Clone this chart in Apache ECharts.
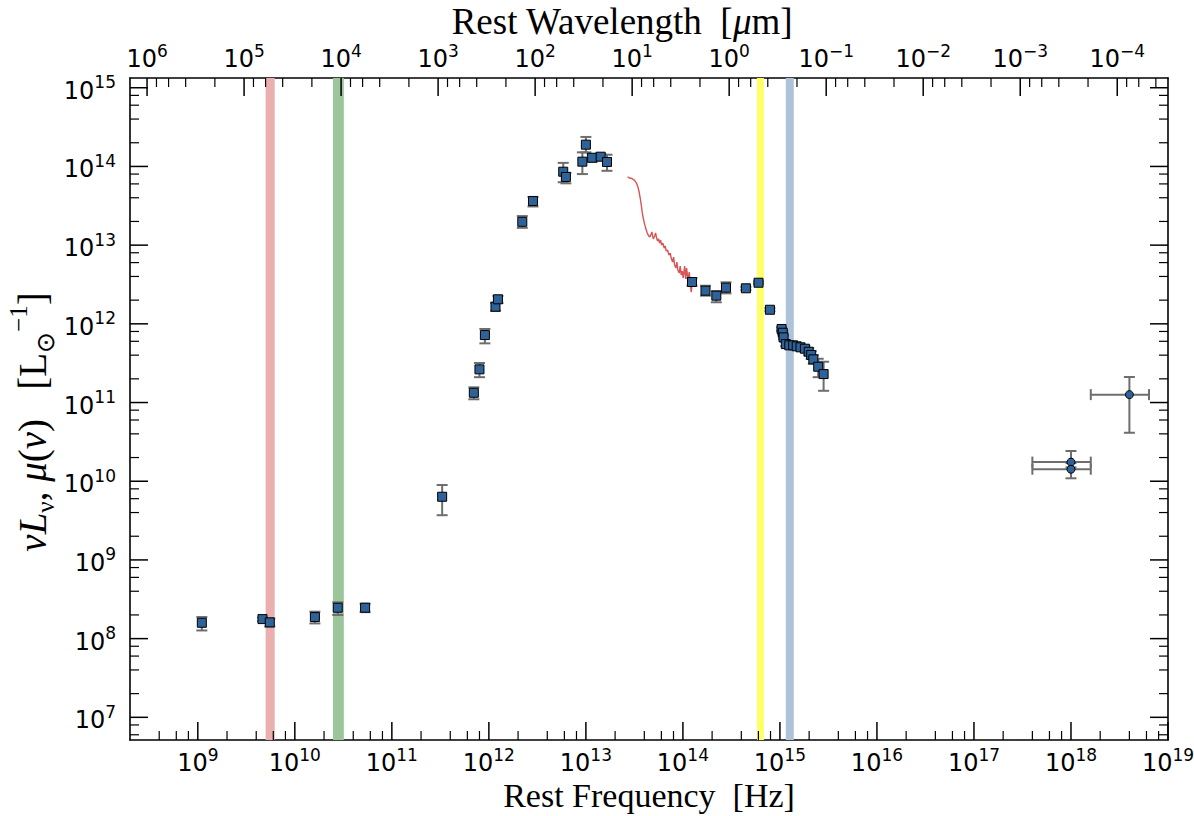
<!DOCTYPE html>
<html>
<head>
<meta charset="utf-8">
<title>SED</title>
<script src="https://cdn.jsdelivr.net/npm/echarts@6/dist/echarts.min.js"></script>
<style>
  html, body { margin: 0; padding: 0; background: #fff; }
  #chart { width: 1194px; height: 816px; }
</style>
</head>
<body>
<div id="chart"></div>
<script>
// axis limits
const freqMin = 2e8, freqMax = 1e19;        // Hz
const lumMin = 5.15e6, lumMax = 1.33e15;    // L_sun
const C_UM = 2.998e14;                      // c in um * Hz

// tick exponents
const freqTickExps = [9, 10, 11, 12, 13, 14, 15, 16, 17, 18, 19];
const lumTickExps = [7, 8, 9, 10, 11, 12, 13, 14, 15];
const waveTickExps = [6, 5, 4, 3, 2, 1, 0, -1, -2, -3, -4];
const minorSubs = [2, 4, 6, 8];

// photometry (squares)
const photFreq = [1.1e9, 4.64e9, 5.52e9, 1.61e10, 2.77e10, 5.3e10, 3.3e11,
  7.0e11, 8.0e11, 9.1e11, 1.17e12, 1.24e12, 2.21e12, 2.85e12, 5.84e12, 6.22e12,
  9.2e12, 1.0e13, 1.16e13, 1.42e13, 1.65e13,
  1.24e14, 1.71e14, 2.21e14, 2.78e14, 4.46e14, 6.02e14, 7.89e14,
  1.04e15, 1.07e15, 1.09e15, 1.15e15, 1.25e15, 1.37e15, 1.49e15, 1.63e15,
  1.81e15, 1.98e15, 2.1e15, 2.21e15, 2.48e15, 2.82e15];
const photLum = [1.59e8, 1.77e8, 1.61e8, 1.88e8, 2.47e8, 2.47e8, 6.35e9,
  1.33e11, 2.64e11, 7.2e11, 1.65e12, 2.05e12, 1.98e13, 3.63e13, 8.57e13, 7.35e13,
  1.15e14, 1.89e14, 1.29e14, 1.33e14, 1.14e14,
  3.4e12, 2.64e12, 2.28e12, 2.88e12, 2.83e12, 3.33e12, 1.51e12,
  8.6e11, 7.7e11, 6.73e11, 5.53e11, 5.33e11, 5.33e11, 5.18e11, 5.03e11,
  4.83e11, 4.42e11, 4.02e11, 3.54e11, 2.85e11, 2.3e11];
const photLo = [1.27e8, 1.68e8, 1.42e8, 1.56e8, 2.0e8, 2.17e8, 3.7e9,
  1.1e11, 2.1e11, 5.65e11, 1.46e12, 1.84e12, 1.66e13, 3.1e13, 6.3e13, 6.1e13,
  8.0e13, 1.51e14, 1.15e14, 1.2e14, 8.8e13,
  3.05e12, 2.28e12, 1.88e12, 2.44e12, 2.7e12, 3.2e12, 1.45e12,
  8.2e11, 7.3e11, 6.4e11, 5.2e11, 5.0e11, 5.0e11, 4.85e11, 4.7e11,
  4.45e11, 4.0e11, 3.6e11, 3.1e11, 2.1e11, 1.41e11];
const photHi = [1.88e8, 1.85e8, 1.8e8, 2.2e8, 2.89e8, 2.78e8, 8.96e9,
  1.56e11, 3.18e11, 8.6e11, 1.85e12, 2.27e12, 2.34e13, 4.1e13, 1.11e14, 8.3e13,
  1.51e14, 2.37e14, 1.43e14, 1.45e14, 1.41e14,
  3.82e12, 3.05e12, 2.61e12, 3.37e12, 2.95e12, 3.45e12, 1.58e12,
  9.0e11, 8.1e11, 7.1e11, 5.9e11, 5.7e11, 5.7e11, 5.55e11, 5.4e11,
  5.25e11, 4.9e11, 4.5e11, 4.0e11, 3.6e11, 3.3e11];

// X-ray (circles)
const xrayFreq = [4.0e18, 1.0e18, 1.0e18];
const xrayLum = [1.26e11, 1.75e10, 1.42e10];
const xrayLumLo = [4.13e10, 1.5e10, 1.09e10];
const xrayLumHi = [2.11e11, 2.42e10, 1.7e10];
const xrayFreqLo = [1.6e18, 4.0e17, 4.0e17];
const xrayFreqHi = [6.37e18, 1.6e18, 1.6e18];

// mid-IR spectrum (red line)
const specFreq = [2.69e13, 2.81e13, 2.98e13, 3.16e13, 3.32e13, 3.44e13, 3.54e13, 3.63e13,
  3.72e13, 3.80e13, 3.90e13, 4.03e13, 4.16e13, 4.29e13, 4.43e13, 4.57e13, 4.68e13,
  4.79e13, 4.87e13, 4.96e13, 5.11e13, 5.23e13, 5.36e13, 5.48e13, 5.61e13, 5.75e13,
  5.89e13, 6.03e13, 6.22e13, 6.41e13, 6.57e13, 6.73e13, 6.95e13, 7.18e13, 7.40e13,
  7.57e13, 7.83e13, 8.02e13, 8.21e13, 8.47e13, 8.67e13, 8.87e13, 9.16e13, 9.38e13,
  9.60e13, 9.84e13, 1.007e14, 1.042e14, 1.067e14, 1.092e14, 1.127e14, 1.162e14,
  1.189e14, 1.219e14, 1.239e14];
const specLum = [7.40e13, 7.13e13, 7.02e13, 6.71e13, 6.15e13, 5.47e13, 4.73e13, 3.97e13,
  3.24e13, 2.64e13, 2.21e13, 1.85e13, 1.60e13, 1.43e13, 1.31e13, 1.27e13, 1.36e13,
  1.47e13, 1.31e13, 1.20e13, 1.31e13, 1.43e13, 1.23e13, 1.13e13, 1.20e13, 1.06e13,
  1.16e13, 1.00e13, 1.06e13, 9.18e12, 9.75e12, 8.41e12, 8.67e12, 7.48e12, 7.94e12,
  6.86e12, 6.10e12, 7.06e12, 5.59e12, 5.12e12, 6.10e12, 4.83e12, 4.42e12, 5.42e12,
  4.17e12, 4.69e12, 3.82e12, 5.42e12, 3.71e12, 5.12e12, 3.60e12, 4.55e12,
  3.30e12, 2.53e12, 3.11e12];

// shaded frequency bands
const bandLo = [5.0e9, 2.47e10, 5.8e14, 1.15e15];
const bandHi = [6.2e9, 3.2e10, 6.84e14, 1.39e15];
const bandColors = ['#ebafaf', '#9cc59c', '#ffff66', '#aec3da'];

// ---- ticks (drawn inward like the original) ----
const ticks = [];
freqTickExps.forEach(e => ticks.push({ side: 'bottom', v: Math.pow(10, e), major: true, exp: String(e) }));
for (let e = freqTickExps[0] - 1; e <= freqTickExps[freqTickExps.length - 1]; e++) {
  minorSubs.forEach(s => {
    const v = s * Math.pow(10, e);
    if (v > freqMin && v < freqMax) ticks.push({ side: 'bottom', v: v, major: false });
  });
}
waveTickExps.forEach(e => {
  const v = C_UM / Math.pow(10, e);
  if (v >= freqMin && v <= freqMax) ticks.push({ side: 'top', v: v, major: true, exp: String(e).replace('-', '\u2212') });
});
for (let e = -6; e <= 7; e++) {
  minorSubs.forEach(s => {
    const v = C_UM / (s * Math.pow(10, e));
    if (v > freqMin && v < freqMax) ticks.push({ side: 'top', v: v, major: false });
  });
}
lumTickExps.forEach(e => {
  ticks.push({ side: 'left', v: Math.pow(10, e), major: true, exp: String(e) });
  ticks.push({ side: 'right', v: Math.pow(10, e), major: true });
});
for (let e = lumTickExps[0] - 1; e <= lumTickExps[lumTickExps.length - 1]; e++) {
  minorSubs.forEach(s => {
    const v = s * Math.pow(10, e);
    if (v > lumMin && v < lumMax) {
      ticks.push({ side: 'left', v: v, major: false });
      ticks.push({ side: 'right', v: v, major: false });
    }
  });
}

const tickRich = {
  b: { fontFamily: 'DejaVu Sans', fontSize: 24, lineHeight: 34, color: '#000' },
  s: { fontFamily: 'DejaVu Sans', fontSize: 17, lineHeight: 15, verticalAlign: 'top', color: '#000' }
};

function renderTick(params, api) {
  const t = ticks[params.dataIndex];
  const cs = params.coordSys;
  const len = t.major ? 18 : 9;
  const lw = t.major ? 1.5 : 1.2;
  const children = [];
  if (t.side === 'bottom' || t.side === 'top') {
    const x = api.coord([t.v, lumMin])[0];
    const y0 = t.side === 'bottom' ? cs.y + cs.height : cs.y;
    const y1 = t.side === 'bottom' ? y0 - len : y0 + len;
    children.push({ type: 'line', shape: { x1: x, y1: y0, x2: x, y2: y1 }, style: { stroke: '#000', lineWidth: lw } });
    if (t.exp !== undefined) {
      children.push({
        type: 'text', x: x, y: t.side === 'bottom' ? y0 + 6 : y0 - 2,
        style: { text: '{b|10}{s|' + t.exp + '}', rich: tickRich, align: 'center',
          verticalAlign: t.side === 'bottom' ? 'top' : 'bottom' }
      });
    }
  } else {
    const y = api.coord([freqMin, t.v])[1];
    const x0 = t.side === 'left' ? cs.x : cs.x + cs.width;
    const x1 = t.side === 'left' ? x0 + len : x0 - len;
    children.push({ type: 'line', shape: { x1: x0, y1: y, x2: x1, y2: y }, style: { stroke: '#000', lineWidth: lw } });
    if (t.exp !== undefined) {
      children.push({
        type: 'text', x: x0 - 14, y: y + 3,
        style: { text: '{b|10}{s|' + t.exp + '}', rich: tickRich, align: 'right', verticalAlign: 'middle' }
      });
    }
  }
  return { type: 'group', children: children };
}

function renderBand(params, api) {
  const i = params.dataIndex;
  const cs = params.coordSys;
  const x0 = api.coord([bandLo[i], lumMin])[0];
  const x1 = api.coord([bandHi[i], lumMin])[0];
  return { type: 'rect', shape: { x: x0, y: cs.y, width: x1 - x0, height: cs.height }, style: { fill: bandColors[i] } };
}

const errStyle = { stroke: '#6e6e6e', lineWidth: 2 };
const capHalf = 5.5;

function renderPhotErr(params, api) {
  const i = params.dataIndex;
  const x = api.coord([photFreq[i], photLum[i]])[0];
  const yHi = api.coord([photFreq[i], photHi[i]])[1];
  const yLo = api.coord([photFreq[i], photLo[i]])[1];
  return {
    type: 'group', children: [
      { type: 'line', shape: { x1: x, y1: yLo, x2: x, y2: yHi }, style: errStyle },
      { type: 'line', shape: { x1: x - capHalf, y1: yHi, x2: x + capHalf, y2: yHi }, style: errStyle },
      { type: 'line', shape: { x1: x - capHalf, y1: yLo, x2: x + capHalf, y2: yLo }, style: errStyle }
    ]
  };
}

function renderXrayErr(params, api) {
  const i = params.dataIndex;
  const c = api.coord([xrayFreq[i], xrayLum[i]]);
  const yHi = api.coord([xrayFreq[i], xrayLumHi[i]])[1];
  const yLo = api.coord([xrayFreq[i], xrayLumLo[i]])[1];
  const xLo = api.coord([xrayFreqLo[i], xrayLum[i]])[0];
  const xHi = api.coord([xrayFreqHi[i], xrayLum[i]])[0];
  return {
    type: 'group', children: [
      { type: 'line', shape: { x1: c[0], y1: yLo, x2: c[0], y2: yHi }, style: errStyle },
      { type: 'line', shape: { x1: c[0] - capHalf, y1: yHi, x2: c[0] + capHalf, y2: yHi }, style: errStyle },
      { type: 'line', shape: { x1: c[0] - capHalf, y1: yLo, x2: c[0] + capHalf, y2: yLo }, style: errStyle },
      { type: 'line', shape: { x1: xLo, y1: c[1], x2: xHi, y2: c[1] }, style: errStyle },
      { type: 'line', shape: { x1: xLo, y1: c[1] - capHalf, x2: xLo, y2: c[1] + capHalf }, style: errStyle },
      { type: 'line', shape: { x1: xHi, y1: c[1] - capHalf, x2: xHi, y2: c[1] + capHalf }, style: errStyle }
    ]
  };
}

const spine = { show: true, lineStyle: { color: '#000', width: 1.6 } };
const hidden = {
  axisTick: { show: false }, axisLabel: { show: false }, splitLine: { show: false }, minorTick: { show: false }
};
const serif = 'Liberation Serif';

const chart = echarts.init(document.getElementById('chart'), null, { renderer: 'svg' });
chart.setOption({
  animation: false,
  backgroundColor: '#fff',
  grid: { left: 130, right: 26, top: 78, bottom: 76, show: false, outerBoundsMode: 'none' },
  xAxis: [
    Object.assign({
      type: 'log', logBase: 10, min: freqMin, max: freqMax, position: 'bottom', axisLine: spine,
      name: 'Rest Frequency  [Hz]', nameLocation: 'middle', nameGap: 41,
      nameTextStyle: { fontFamily: serif, fontSize: 34, lineHeight: 28, color: '#000' }
    }, hidden),
    Object.assign({
      type: 'log', logBase: 10, min: freqMin, max: freqMax, position: 'top', axisLine: spine,
      name: 'Rest Wavelength  [{i|μ}m]', nameLocation: 'middle', nameGap: 40,
      nameTextStyle: {
        fontFamily: serif, fontSize: 37, lineHeight: 34, color: '#000', padding: [0, 54, 0, 0],
        rich: { i: { fontFamily: serif, fontStyle: 'italic', fontSize: 37, lineHeight: 34, color: '#000' } }
      }
    }, hidden)
  ],
  yAxis: [
    Object.assign({
      type: 'log', logBase: 10, min: lumMin, max: lumMax, position: 'left', axisLine: spine,
      name: '{i|νL}{sub|ν}{r|, }{i|μ}{r|(}{i|ν}{r|)   [L}{sub|⊙}{sup|−1}{r|]}',
      nameLocation: 'middle', nameGap: 72, nameRotate: 90,
      nameTextStyle: {
        color: '#000', padding: [0, 26, 0, 0],
        rich: {
          i: { fontFamily: serif, fontStyle: 'italic', fontSize: 39, lineHeight: 52, color: '#000' },
          r: { fontFamily: serif, fontSize: 39, lineHeight: 52, color: '#000' },
          sub: { fontFamily: serif, fontSize: 25, lineHeight: 28, verticalAlign: 'bottom', color: '#000' },
          sup: { fontFamily: serif, fontSize: 25, lineHeight: 28, verticalAlign: 'top', color: '#000' }
        }
      }
    }, hidden),
    Object.assign({
      type: 'log', logBase: 10, min: lumMin, max: lumMax, position: 'right', axisLine: spine
    }, hidden)
  ],
  series: [
    {
      type: 'custom', name: 'bands', z: 1, silent: true,
      renderItem: renderBand,
      data: bandLo.map((lo, i) => [lo, lumMax])
    },
    {
      type: 'line', name: 'spectrum', z: 3, showSymbol: false, symbol: 'none',
      lineStyle: { color: '#d65555', width: 1.4 },
      data: specFreq.map((f, i) => [f, specLum[i]])
    },
    {
      type: 'custom', name: 'photErr', z: 4, renderItem: renderPhotErr,
      data: photFreq.map((f, i) => [f, photLum[i]])
    },
    {
      type: 'custom', name: 'xrayErr', z: 4, renderItem: renderXrayErr,
      data: xrayFreq.map((f, i) => [f, xrayLum[i]])
    },
    {
      type: 'scatter', name: 'photometry', z: 5, symbol: 'rect', symbolSize: 9,
      itemStyle: { color: '#2e6298', borderColor: '#000', borderWidth: 1, opacity: 1 },
      data: photFreq.map((f, i) => [f, photLum[i]])
    },
    {
      type: 'scatter', name: 'xray', z: 5, symbol: 'circle', symbolSize: 8,
      itemStyle: { color: '#2e6298', borderColor: '#000', borderWidth: 1, opacity: 1 },
      data: xrayFreq.map((f, i) => [f, xrayLum[i]])
    },
    {
      type: 'custom', name: 'ticks', z: 6, silent: true, renderItem: renderTick,
      data: ticks.map(t => (t.side === 'bottom' || t.side === 'top') ? [t.v, lumMin] : [freqMin, t.v])
    }
  ]
});
</script>
</body>
</html>
